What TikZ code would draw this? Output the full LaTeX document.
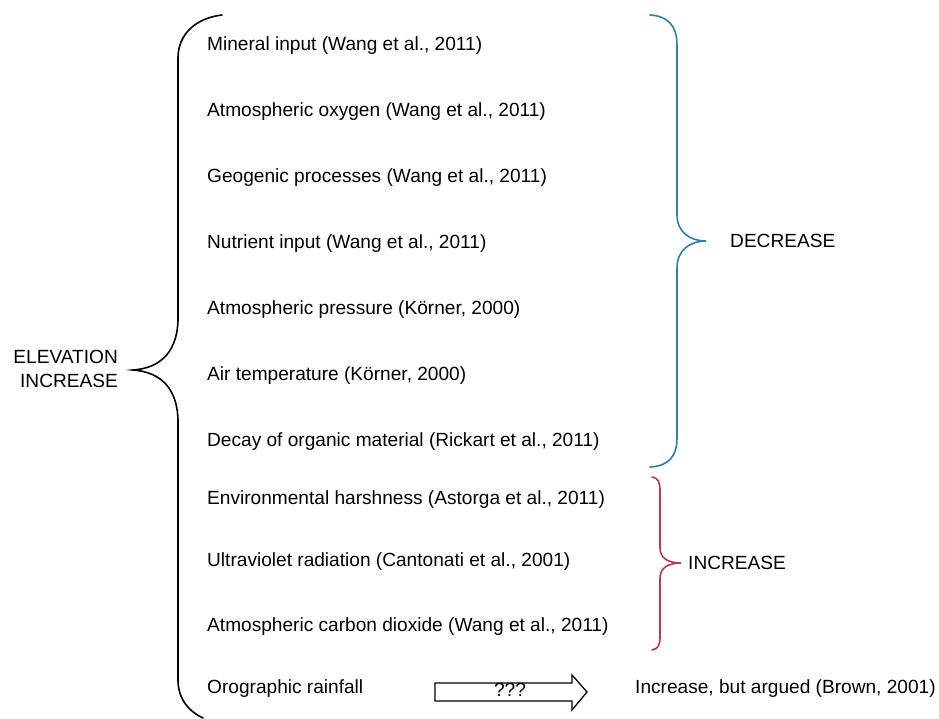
\documentclass[tikz,border=0pt]{standalone}
\usepackage{fontspec}
\setmainfont{Liberation Sans}
\definecolor{braceblue}{HTML}{2F7FA8}
\definecolor{bracered}{HTML}{B73A4E}
\begin{document}
\begin{tikzpicture}[x=1pt,y=-1pt,
  item/.style={anchor=west,inner sep=0pt,font=\fontsize{19.1}{23}\selectfont},
  lbl/.style={inner sep=0pt,font=\fontsize{19.1}{24.5}\selectfont},
  bracepath/.style={line width=1.6pt,line cap=round},
  fatarrow/.style={draw,line width=1.3pt,fill=white}]
\useasboundingbox (0,0) rectangle (939,718);
% items
\node[item] (i1) at (207,46) {Mineral input (Wang et al., 2011)};
\node[item] (i2) at (207,112) {Atmospheric oxygen (Wang et al., 2011)};
\node[item] (i3) at (207,178) {Geogenic processes (Wang et al., 2011)};
\node[item] (i4) at (207,244) {Nutrient input (Wang et al., 2011)};
\node[item] (i5) at (207,310) {Atmospheric pressure (Körner, 2000)};
\node[item] (i6) at (207,376) {Air temperature (Körner, 2000)};
\node[item] (i7) at (207,442) {Decay of organic material (Rickart et al., 2011)};
\node[item] (i8) at (207,500) {Environmental harshness (Astorga et al., 2011)};
\node[item] (i9) at (207,562) {Ultraviolet radiation (Cantonati et al., 2001)};
\node[item] (i10) at (207,627) {Atmospheric carbon dioxide (Wang et al., 2011)};
\node[item] (i11) at (207,689) {Orographic rainfall};
\node[item] (res) at (635,689) {Increase, but argued (Brown, 2001)};
% labels
\node[lbl,align=right,anchor=east] (elev) at (118,369) {ELEVATION\\INCREASE};
\node[lbl,anchor=west] (dec) at (730,241) {DECREASE};
\node[lbl,anchor=west] (inc) at (688,563) {INCREASE};
% left brace
\coordinate (ltip) at (133,370);
\draw[bracepath] (222,15) .. controls (196,18) and (178,34) .. (178,58)
  -- (178,318) .. controls (178,350) and (162,368) .. (ltip)
  .. controls (162,372) and (178,390) .. (178,422)
  -- (178,680) .. controls (178,700) and (190,712) .. (203,718);
% blue brace
\coordinate (btip) at (706,241);
\draw[bracepath,braceblue] (650,15) .. controls (668,16) and (677,26) .. (677,45)
  -- (677,215) .. controls (677,232) and (690,241) .. (btip)
  .. controls (690,241) and (677,250) .. (677,268)
  -- (677,438) .. controls (677,457) and (668,466) .. (650,467);
% red brace
\coordinate (rtip) at (681,563);
\draw[bracepath,bracered] (652,477) .. controls (658,478) and (660,482) .. (660,490)
  -- (660,548) .. controls (660,558) and (668,563) .. (rtip)
  .. controls (668,563) and (660,568) .. (660,578)
  -- (660,637) .. controls (660,645) and (658,649) .. (652,650);
% arrow
\draw[fatarrow] (435,683) -- (572,683) -- (572,675) -- (587,692) -- (572,710)
  -- (572,701) -- (435,701) -- cycle;
\node[lbl] (q) at (510,690) {???};
\end{tikzpicture}
\end{document}
